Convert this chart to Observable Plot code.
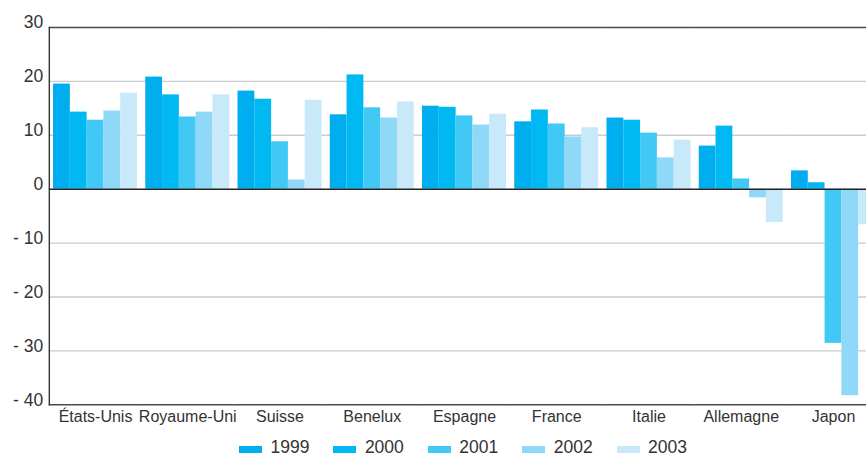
<!DOCTYPE html>
<html>
<head>
<meta charset="utf-8">
<script src="https://cdn.jsdelivr.net/npm/d3@7"></script>
<script src="https://cdn.jsdelivr.net/npm/@observablehq/plot@0.6"></script>
<style>
  html, body { margin: 0; padding: 0; background: #fff; overflow: hidden; }
  body { width: 866px; height: 455px; font-family: "Liberation Sans", Arial, sans-serif; }
  #chart svg { display: block; }
  #legend { position: relative; width: 866px; height: 30px; }
  #legend .sw { position: absolute; top: 21px; width: 23px; height: 7px; }
  #legend .lb { position: absolute; top: 13.5px; font-size: 17.5px; line-height: 1; color: #333; }
</style>
</head>
<body>
<div id="chart"></div>
<div id="legend"></div>
<script>
const countries = ["États-Unis", "Royaume-Uni", "Suisse", "Benelux", "Espagne", "France", "Italie", "Allemagne", "Japon"];
const years = ["1999", "2000", "2001", "2002", "2003"];
const v1999 = [19.5, 20.8, 18.2, 13.8, 15.4, 12.5, 13.2, 8.0, 3.4];
const v2000 = [14.3, 17.5, 16.7, 21.2, 15.2, 14.7, 12.8, 11.7, 1.2];
const v2001 = [12.8, 13.4, 8.8, 15.1, 13.6, 12.1, 10.4, 1.9, -28.6];
const v2002 = [14.5, 14.3, 1.7, 13.2, 11.9, 9.7, 5.8, -1.6, -38.3];
const v2003 = [17.8, 17.5, 16.5, 16.2, 13.9, 11.4, 9.1, -6.2, -6.6];
const colors = ["#00adee", "#00b9f2", "#41c8f5", "#8fd8f7", "#c7e9f9"];
const yTicks = [30, 20, 10, 0, -10, -20, -30, -40];
const gridTicks = [20, 10, -10, -20, -30];

const series = [v1999, v2000, v2001, v2002, v2003];
const data = [];
countries.forEach((c, i) => {
  years.forEach((y, j) => data.push({country: c, year: y, value: series[j][i]}));
});

const fmt = d => d < 0 ? "- " + Math.abs(d) : String(d);
const ext = -4.2;

const chart = Plot.plot({
  width: 866,
  height: 425,
  marginTop: 27,
  marginBottom: 20.7,
  marginLeft: 48.9,
  marginRight: 0,
  style: {fontFamily: "'Liberation Sans', Arial, sans-serif", color: "#333", background: "#fff"},
  fx: {domain: countries, range: [48.9, 879.1], paddingInner: 0.0894, paddingOuter: 0.0447, round: false, label: null},
  x: {domain: years, padding: 0, round: false, axis: null},
  y: {domain: [-40, 30], axis: null},
  color: {domain: years, range: colors},
  marks: [
    Plot.ruleY(gridTicks, {stroke: "#cbcbcb", strokeWidth: 1.4, insetLeft: ext, insetRight: ext}),
    Plot.barY(data, {fx: "country", x: "year", y: "value", fill: "year"}),
    Plot.ruleY([30, -40], {stroke: "#4a4a4a", strokeWidth: 1.4, insetLeft: ext, insetRight: ext}),
    Plot.ruleY([0], {stroke: "#222", strokeWidth: 1.6, insetLeft: ext, insetRight: ext}),
    Plot.frame({anchor: "left", facetAnchor: "left", insetLeft: ext, stroke: "#333", strokeWidth: 1.4}),
    Plot.axisY(yTicks, {anchor: "left", tickSize: 0, tickPadding: 10.3, dy: -4.9, tickFormat: fmt, fontSize: 17.5, fill: "#333", label: null}),
    Plot.axisFx({anchor: "bottom", tickSize: 0, tickPadding: 6, fontSize: 16, fill: "#333", label: null})
  ]
});
document.getElementById("chart").appendChild(chart);

const legend = document.getElementById("legend");
years.forEach((y, i) => {
  const left = 239 + i * 94.4;
  const sw = document.createElement("div");
  sw.className = "sw";
  sw.style.left = left + "px";
  sw.style.background = colors[i];
  legend.appendChild(sw);
  const lb = document.createElement("div");
  lb.className = "lb";
  lb.style.left = (left + 31.5) + "px";
  lb.textContent = y;
  legend.appendChild(lb);
});
</script>
</body>
</html>
